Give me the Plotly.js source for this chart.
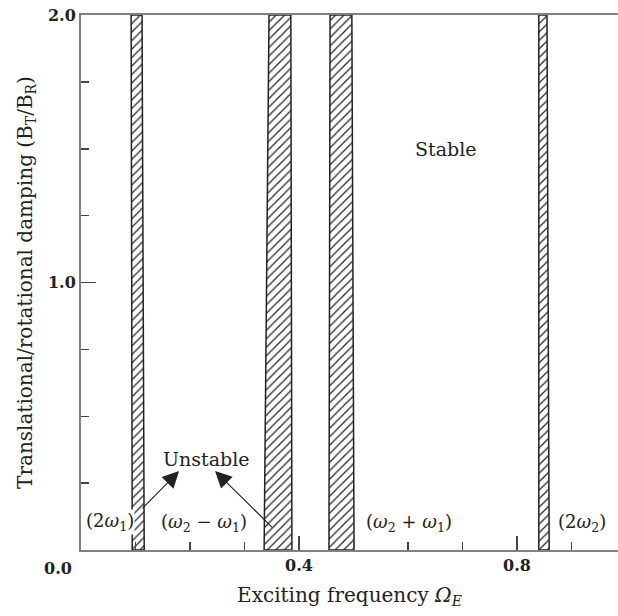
<!DOCTYPE html>
<html><head><meta charset="utf-8">
<script src="https://cdn.plot.ly/plotly-3.0.1.min.js"></script>
<style>html,body{margin:0;padding:0;background:#fff}</style>
</head><body><div id="chart" style="width:618px;height:616px"></div>
<script>
// Instability regions (hatched bands): edges at bottom (y=0) and top (y=2)
const bandNames = ['2ω1', 'ω2−ω1', 'ω2+ω1', '2ω2'];
const bandLeftBottom  = [0.094, 0.336, 0.455, 0.840];
const bandRightBottom = [0.116, 0.387, 0.501, 0.859];
const bandLeftTop     = [0.092, 0.345, 0.457, 0.840];
const bandRightTop    = [0.112, 0.385, 0.497, 0.855];
const dampingRange = [0, 2];

const xTickVals = [0.4, 0.8];
const xTickText = ['0.4', '0.8'];
const yTickVals = [1, 2];
const yTickText = ['1.0', '2.0'];

// Label texts and positions (data coords)
const labelTexts = ['(2<i>ω</i><sub>1</sub>)', '(<i>ω</i><sub>2</sub> − <i>ω</i><sub>1</sub>)',
                    '(<i>ω</i><sub>2</sub> + <i>ω</i><sub>1</sub>)', '(2<i>ω</i><sub>2</sub>)'];
const labelX = [0.053, 0.226, 0.602, 0.919];
const labelY = [0.105, 0.1, 0.1, 0.1];

const serif = 'DejaVu Serif, Liberation Serif, serif';
const ink = '#222';

const traces = bandNames.map((n, i) => ({
  type: 'scatter', mode: 'lines', name: n, showlegend: false, hoverinfo: 'skip',
  x: [bandLeftBottom[i], bandLeftTop[i], bandRightTop[i], bandRightBottom[i], bandLeftBottom[i]],
  y: [dampingRange[0], dampingRange[1], dampingRange[1], dampingRange[0], dampingRange[0]],
  fill: 'toself',
  fillcolor: 'white',
  fillpattern: {shape: '/', fgcolor: '#222', bgcolor: 'white', size: 6, solidity: 0.2},
  line: {color: '#222', width: 1.5}
}));

const annotations = [];
labelTexts.forEach((t, i) => annotations.push({
  x: labelX[i], y: labelY[i], xref: 'x', yref: 'y', text: t, showarrow: false,
  font: {family: serif, size: 18, color: ink}, bgcolor: i === 0 ? 'white' : 'rgba(0,0,0,0)', borderpad: 0
}));
annotations.push({x: 0.229, y: 0.34, xref: 'x', yref: 'y', text: 'Unstable', showarrow: false,
  font: {family: serif, size: 19, color: ink}});
annotations.push({x: 0.668, y: 1.5, xref: 'x', yref: 'y', text: 'Stable', showarrow: false,
  font: {family: serif, size: 19, color: ink}});
// arrows
annotations.push({x: 0.180, y: 0.295, ax: 0.110, ay: 0.150, xref: 'x', yref: 'y', axref: 'x', ayref: 'y',
  text: '', showarrow: true, arrowhead: 2, arrowsize: 3, arrowwidth: 1.1, arrowcolor: ink});
annotations.push({x: 0.246, y: 0.295, ax: 0.354, ay: 0.0785, xref: 'x', yref: 'y', axref: 'x', ayref: 'y',
  text: '', showarrow: true, arrowhead: 2, arrowsize: 3, arrowwidth: 1.1, arrowcolor: ink});
// corner 0.0 label
annotations.push({x: 0, y: 0, xref: 'x', yref: 'y', xshift: -23, yshift: -18, text: '0.0', showarrow: false,
  font: {family: serif, size: 16, color: ink, weight: 'bold'}});

const layout = {
  width: 618, height: 616,
  margin: {l: 81, r: 0, t: 15, b: 66},
  paper_bgcolor: 'white', plot_bgcolor: 'white',
  showlegend: false,
  xaxis: {
    range: [0, 0.9853], showgrid: false, zeroline: false,
    showline: true, linecolor: '#808080', linewidth: 2, mirror: true,
    tickmode: 'array', tickvals: xTickVals, ticktext: xTickText,
    ticks: 'inside', ticklen: 14, tickwidth: 1.5, tickcolor: '#444',
    minor: {dtick: 0.1, tick0: 0, ticks: 'inside', ticklen: 8, tickwidth: 1.5, tickcolor: '#444'},
    tickfont: {family: serif, size: 16, color: ink, weight: 'bold'},
    title: {text: 'Exciting frequency <i>Ω</i><sub><i>E</i></sub>', font: {family: serif, size: 20, color: ink}, standoff: 14}
  },
  yaxis: {
    range: dampingRange, showgrid: false, zeroline: false,
    showline: true, linecolor: '#808080', linewidth: 2,
    tickmode: 'array', tickvals: yTickVals, ticktext: yTickText,
    ticks: 'inside', ticklen: 15, tickwidth: 1.5, tickcolor: '#444',
    minor: {dtick: 0.25, tick0: 0, ticks: 'inside', ticklen: 8, tickwidth: 1.5, tickcolor: '#444'},
    tickfont: {family: serif, size: 16, color: ink, weight: 'bold'},
    title: {text: 'Translational/rotational damping (B<sub>T</sub>/B<sub>R</sub>)', font: {family: serif, size: 20, color: ink}, standoff: 10}
  },
  annotations: annotations
};

Plotly.newPlot('chart', traces, layout, {displayModeBar: false, staticPlot: true});
</script></body></html>
